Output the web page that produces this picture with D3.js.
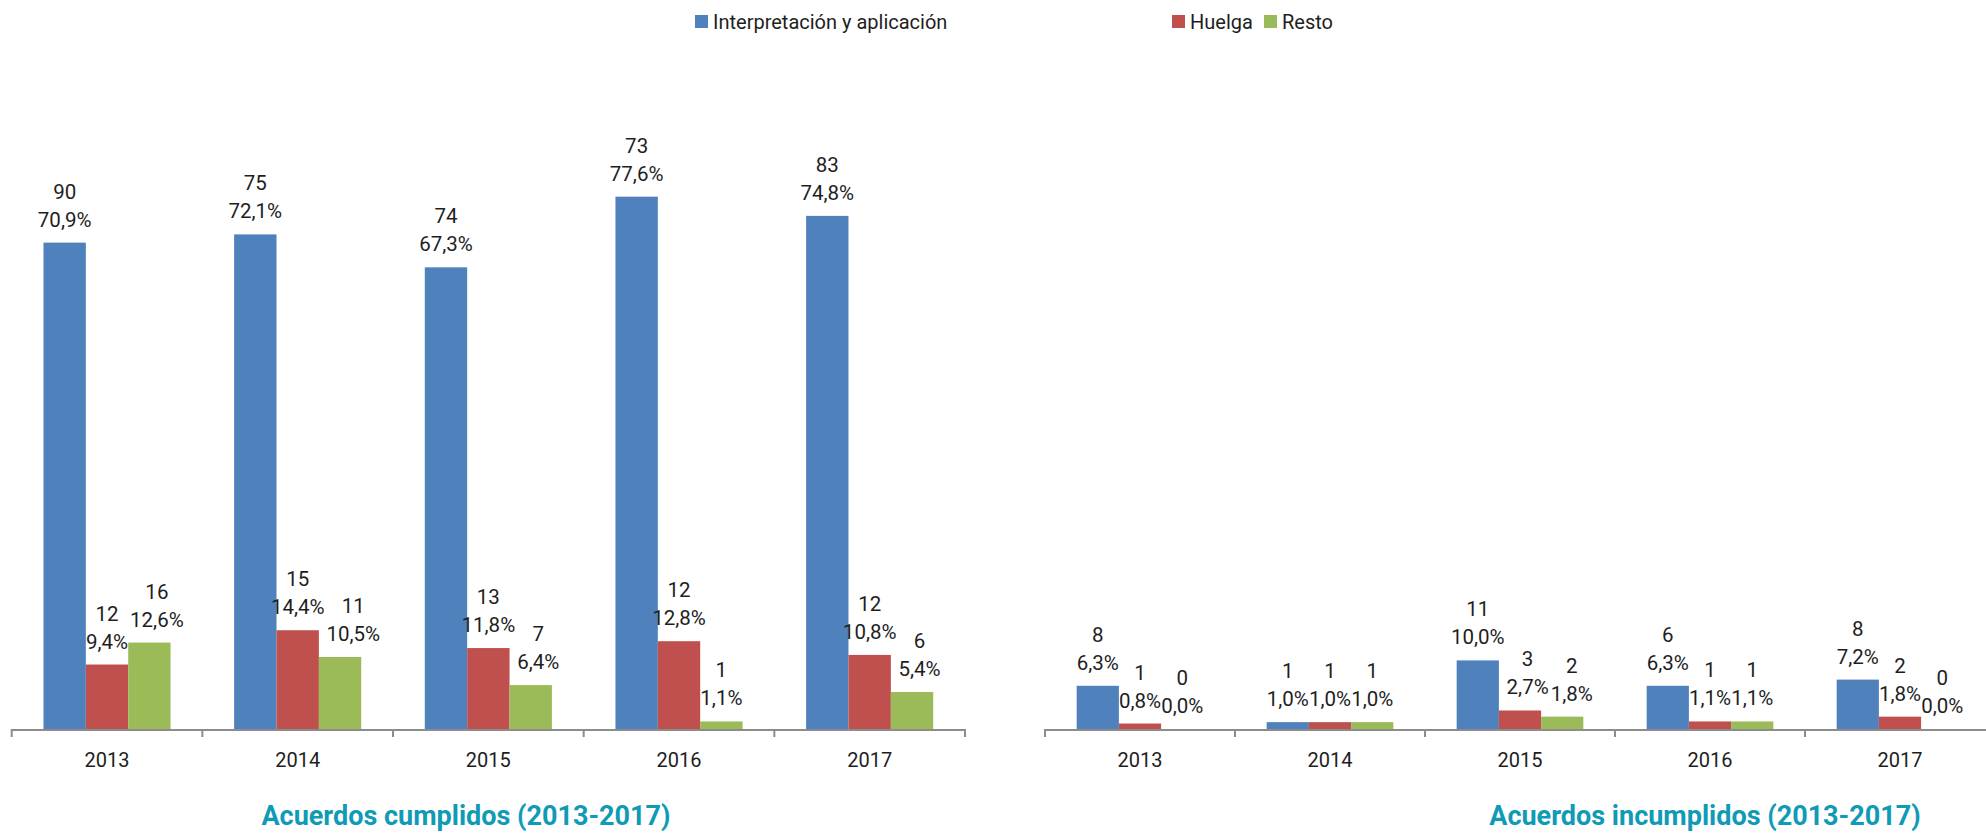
<!DOCTYPE html>
<html>
<head>
<meta charset="utf-8">
<script src="https://cdn.jsdelivr.net/npm/d3@7"></script>
<style>
  html, body { margin: 0; padding: 0; background: #ffffff; }
  svg { display: block; }
  text { font-family: Roboto, "Noto Sans", sans-serif; fill: #1e1e1e; }
</style>
</head>
<body>
<svg id="chart" width="1986" height="834"></svg>
<script>
// ---------------- DATA ----------------
const years = ["2013", "2014", "2015", "2016", "2017"];
const seriesNames = ["Interpretación y aplicación", "Huelga", "Resto"];

// Acuerdos cumplidos (2013-2017)
const cumplidosInterpCount = [90, 75, 74, 73, 83];
const cumplidosInterpPct   = [70.9, 72.1, 67.3, 77.6, 74.8];
const cumplidosHuelgaCount = [12, 15, 13, 12, 12];
const cumplidosHuelgaPct   = [9.4, 14.4, 11.8, 12.8, 10.8];
const cumplidosRestoCount  = [16, 11, 7, 1, 6];
const cumplidosRestoPct    = [12.6, 10.5, 6.4, 1.1, 5.4];

// Acuerdos incumplidos (2013-2017)
const incumplidosInterpCount = [8, 1, 11, 6, 8];
const incumplidosInterpPct   = [6.3, 1.0, 10.0, 6.3, 7.2];
const incumplidosHuelgaCount = [1, 1, 3, 1, 2];
const incumplidosHuelgaPct   = [0.8, 1.0, 2.7, 1.1, 1.8];
const incumplidosRestoCount  = [0, 1, 2, 1, 0];
const incumplidosRestoPct    = [0.0, 1.0, 1.8, 1.1, 0.0];

const chartTitles = ["Acuerdos cumplidos (2013-2017)", "Acuerdos incumplidos (2013-2017)"];

// ---------------- STYLE / LAYOUT ----------------
const colors = ["#4f81bd", "#c0504d", "#9bbb59"];
const axisColor = "#8c8c8c";
const titleColor = "#0f9ab6";
const baseY = 729;
const topY = 43;

const locale = d3.formatLocale({decimal: ",", thousands: ".", grouping: [3], currency: ["", "€"]});
const fmtPct = v => locale.format(".1f")(v) + "%";

const svg = d3.select("#chart");

function buildRows(counts, pcts) {
  return years.map((yr, i) => ({
    year: yr,
    items: seriesNames.map((s, k) => ({series: s, k: k, count: counts[k][i], pct: pcts[k][i]}))
  }));
}

const panels = [
  {
    rows: buildRows([cumplidosInterpCount, cumplidosHuelgaCount, cumplidosRestoCount],
                    [cumplidosInterpPct, cumplidosHuelgaPct, cumplidosRestoPct]),
    x0: 11.7, x1: 965, title: chartTitles[0], titleX: 466
  },
  {
    rows: buildRows([incumplidosInterpCount, incumplidosHuelgaCount, incumplidosRestoCount],
                    [incumplidosInterpPct, incumplidosHuelgaPct, incumplidosRestoPct]),
    x0: 1045, x1: 1995, title: chartTitles[1], titleX: 1705
  }
];

const y = d3.scaleLinear().domain([0, 100]).range([baseY, topY]);

panels.forEach(p => {
  const g = svg.append("g");
  const xBand = d3.scaleBand().domain(years).range([p.x0, p.x1]).paddingInner(0).paddingOuter(0);
  const bw = xBand.bandwidth();
  const xSeries = d3.scaleBand().domain(seriesNames).range([bw / 6, bw * 5 / 6]).padding(0);

  const groups = g.selectAll("g.year").data(p.rows).join("g")
    .attr("class", "year")
    .attr("transform", d => `translate(${xBand(d.year)},0)`);

  groups.selectAll("rect").data(d => d.items).join("rect")
    .attr("x", d => xSeries(d.series))
    .attr("width", xSeries.bandwidth())
    .attr("y", d => y(d.pct))
    .attr("height", d => baseY - y(d.pct))
    .attr("fill", d => colors[d.k]);

  // data labels (count + percentage)
  groups.each(function(row) {
    const gg = d3.select(this);
    let prevBox = null;
    row.items.forEach(d => {
      const cx = xSeries(d.series) + xSeries.bandwidth() / 2;
      const top = y(d.pct);
      const t = gg.append("text")
        .attr("text-anchor", "middle")
        .style("font-size", "20.5px");
      t.append("tspan").attr("x", cx).attr("y", top - 44).text(d.count);
      t.append("tspan").attr("x", cx).attr("y", top - 16).text(fmtPct(d.pct));
      let box = t.node().getBBox();
      if (prevBox) {
        const vOverlap = box.y < prevBox.y + prevBox.height && box.y + box.height > prevBox.y;
        const hOverlap = prevBox.x + prevBox.width - box.x;
        if (vOverlap && hOverlap > 0) {
          const shift = hOverlap + 2;
          t.attr("transform", `translate(${shift},0)`);
          box = {x: box.x + shift, y: box.y, width: box.width, height: box.height};
        }
      }
      prevBox = box;
    });
  });

  // axis line
  g.append("line")
    .attr("x1", p.x0).attr("x2", p.x1)
    .attr("y1", baseY + 1).attr("y2", baseY + 1)
    .attr("stroke", axisColor).attr("stroke-width", 2);

  // boundary tick marks
  const bounds = years.map(yv => xBand(yv)).concat([p.x1]);
  g.selectAll("line.tick").data(bounds).join("line")
    .attr("class", "tick")
    .attr("x1", d => d).attr("x2", d => d)
    .attr("y1", baseY).attr("y2", baseY + 8)
    .attr("stroke", axisColor).attr("stroke-width", 2);

  // category labels
  const axis = d3.axisBottom(xBand).tickSize(0).tickPadding(24);
  const ax = g.append("g").attr("transform", `translate(0,${baseY})`).call(axis);
  ax.select(".domain").remove();
  ax.selectAll("text").style("font-size", "20px").style("font-family", "Roboto, sans-serif").attr("fill", "#1e1e1e");

  // title
  g.append("text")
    .attr("x", p.titleX).attr("y", 825)
    .attr("text-anchor", "middle")
    .style("font-size", "27px").style("font-weight", "bold")
    .style("fill", titleColor)
    .text(p.title);
});

// ---------------- LEGEND ----------------
const legendPos = [695, 1172, 1264];
const legend = svg.append("g");
seriesNames.forEach((s, k) => {
  legend.append("rect")
    .attr("x", legendPos[k]).attr("y", 15)
    .attr("width", 13).attr("height", 13)
    .attr("fill", colors[k]);
  legend.append("text")
    .attr("x", legendPos[k] + 18).attr("y", 28.5)
    .style("font-size", "20px")
    .text(s);
});
</script>
</body>
</html>
